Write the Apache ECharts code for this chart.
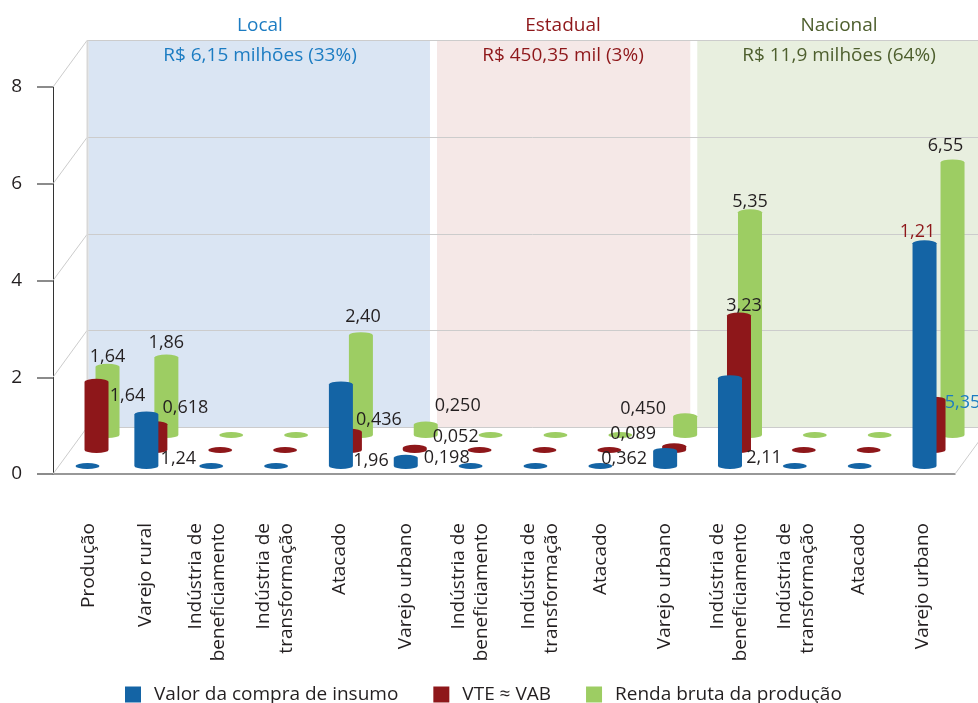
<!DOCTYPE html>
<html>
<head>
<meta charset="utf-8">
<style>html,body{margin:0;padding:0;background:#fff}#chart{width:978px;height:703px}</style>
<script src="https://cdn.jsdelivr.net/npm/echarts@6/dist/echarts.min.js"></script>
</head>
<body>
<div id="chart"></div>
<script>
// Value chain: 14 stages grouped into local, state and national markets
const categories = [
  'Produção', 'Varejo rural', 'Indústria de\nbeneficiamento', 'Indústria de\ntransformação', 'Atacado', 'Varejo urbano',
  'Indústria de\nbeneficiamento', 'Indústria de\ntransformação', 'Atacado', 'Varejo urbano',
  'Indústria de\nbeneficiamento', 'Indústria de\ntransformação', 'Atacado', 'Varejo urbano'
];
const insumo = [0, 1.24, 0, 0, 1.96, 0.198, 0, 0, 0, 0.362, 2.11, 0, 0, 5.35];
const vte    = [1.64, 0.618, 0, 0, 0.436, 0.052, 0, 0, 0, 0.089, 3.23, 0, 0, 1.21];
const renda  = [1.64, 1.86, 0, 0, 2.40, 0.25, 0, 0, 0, 0.45, 5.35, 0, 0, 6.55];
const seriesNames = ['Valor da compra de insumo', 'VTE ≈ VAB', 'Renda bruta da produção'];
const yTicks = [0, 2, 4, 6, 8];
const regionNames = ['Local', 'Estadual', 'Nacional'];
const regionTotals = ['R$ 6,15 milhões (33%)', 'R$ 450,35 mil (3%)', 'R$ 11,9 milhões (64%)'];

// Drawing settings
const FONT = '"Open Sans", "Noto Sans", sans-serif';
const TEXT = '#231f20';
const BLUE = '#1464a5', RED = '#8e171a', GREEN = '#9dcd63';
const LIGHT = '#cccccc';
const DEPTH_X = 34, DEPTH_Y = 46.5;
const RADIUS_X = 12, RADIUS_Y = 3;

// Each floor row sits at its own depth with its own sideways offset
const rows = {
  insumo: { lift: 8, side: -1, color: BLUE },
  vte: { lift: 24, side: 8, color: RED },
  renda: { lift: 39, side: 19, color: GREEN }
};
// Extra sideways shift of single columns
const columnShift = { 0: 6 };
const columnShiftByRow = { renda: { 13: 8 } };

// Value label placement relative to the top of its cylinder: [dx, dy, colour]
const labelPlacement = {
  insumo: { 1: [32, 44], 4: [30, 76], 5: [41, 0], 9: [-41, 8], 10: [34, 80], 13: [38, 160, '#1c7cc2'] },
  vte: { 0: [31, 14], 1: [30, -16], 4: [29, -12], 5: [41, -11], 9: [-41, -12], 10: [5, -10], 13: [-16, -168, RED] },
  renda: { 0: [0, -10], 1: [0, -15], 4: [2, -18], 5: [32, -19], 9: [-42, -7], 10: [0, -10], 13: [-7, -17] }
};

// Sideways shift of some stage names under the axis (positive moves right)
const stageNameShift = { 0: 3, 1: -4, 2: -7, 3: -3, 4: -3, 5: -2, 6: -2, 7: 4, 11: 2 };

const panels = [
  { from: 0, to: 5, inLeft: 35.5, inRight: -9.6, color: '#dae5f3' },
  { from: 6, to: 9, inLeft: -2.6, inRight: -7, color: '#f5e8e7' },
  { from: 10, to: 13, inLeft: 0, inRight: 23, color: '#e8efdf' }
];

const formatValue = v => v.toFixed(v < 1 ? 3 : 2).replace('.', ',');

// Rich text styles that pad a rotated stage name so it sits off its band centre
const stageRich = {};
Object.values(stageNameShift).forEach(d => {
  const pad = 2 * Math.abs(d);
  stageRich[`s${d < 0 ? 'm' : 'p'}${Math.abs(d)}`] = {
    align: 'right', fontFamily: FONT, fontSize: 19, color: TEXT, lineHeight: 23 + pad,
    padding: d < 0 ? [0, 0, pad, 0] : [pad, 0, 0, 0]
  };
});

function stageLabel(value, index) {
  const d = stageNameShift[index];
  if (!d) return value;
  const key = `s${d < 0 ? 'm' : 'p'}${Math.abs(d)}`;
  const lines = value.split('\n');
  if (d < 0) {
    return lines.map((t, k) => (k === lines.length - 1 ? `{${key}|${t}}` : `{plain|${t}}`)).join('\n');
  }
  return lines.map((t, k) => (k === 0 ? `{${key}|${t}}` : `{plain|${t}}`)).join('\n');
}

function columnX(api, row, i) {
  const cx = api.coord([i, 0])[0];
  const shift = (columnShift[i] || 0) + ((columnShiftByRow[row] || {})[i] || 0);
  return cx + rows[row].side + (cx - 500) * 0.0065 + shift;
}

function columnTop(api, row, i, v) {
  const y0 = api.coord([i, 0])[1];
  const base = y0 - rows[row].lift;
  return { base, top: base - (y0 - api.coord([i, v])[1]) };
}

function cylinderSeries(row, name, values) {
  return {
    type: 'custom',
    name,
    yAxisIndex: 1,
    silent: true,
    itemStyle: { color: rows[row].color },
    data: values.map((v, i) => [i, v]),
    encode: { x: 0, y: 1 },
    renderItem(params, api) {
      const i = api.value(0), v = api.value(1);
      const x = columnX(api, row, i);
      const { base, top } = columnTop(api, row, i, v);
      const l = x - RADIUS_X, r = x + RADIUS_X;
      const a = `A${RADIUS_X} ${RADIUS_Y} 0 0 1`;
      return {
        type: 'path',
        shape: {
          pathData: `M${l} ${top} ${a} ${r} ${top} L${r} ${base} ${a} ${l} ${base} Z`,
          x: l, y: top - RADIUS_Y, width: 2 * RADIUS_X, height: base - top + 2 * RADIUS_Y
        },
        style: { fill: rows[row].color }
      };
    }
  };
}

const labelItems = [];
[['insumo', insumo], ['vte', vte], ['renda', renda]].forEach(([row, values]) => {
  values.forEach((v, i) => { if (v > 0) labelItems.push([i, v, row]); });
});

const option = {
  animation: false,
  backgroundColor: '#fff',
  textStyle: { fontFamily: FONT },
  title: regionNames.flatMap((name, k) => {
    const colors = ['#1c7cc2', RED, '#4e5f2e'];
    const centers = [260, 563, 839];
    return [
      { text: name, left: centers[k], top: 16, padding: 0, textAlign: 'center',
        textStyle: { color: colors[k], fontFamily: FONT, fontSize: 19, fontWeight: 'normal' } },
      { text: regionTotals[k], left: centers[k], top: 46, padding: 0, textAlign: 'center',
        textStyle: { color: colors[k], fontFamily: FONT, fontSize: 19, fontWeight: 'normal' } }
    ];
  }),
  legend: {
    data: seriesNames,
    left: 125, top: 685,
    itemWidth: 16, itemHeight: 16, itemGap: 35, icon: 'rect',
    textStyle: { color: TEXT, fontFamily: FONT, fontSize: 19, padding: [0, 0, 0, 8] },
    padding: 0, selectedMode: false
  },
  grid: { left: 53, right: 23, top: 87, bottom: 229, containLabel: false },
  xAxis: {
    type: 'category',
    data: categories,
    axisLine: { lineStyle: { color: '#777', width: 1.5 } },
    axisTick: { length: 15, lineStyle: { color: '#555', width: 1 } },
    axisLabel: {
      interval: 0, rotate: 90, margin: 49, color: TEXT, fontFamily: FONT, fontSize: 19, lineHeight: 23, align: 'right',
      formatter: stageLabel,
      rich: Object.assign({ plain: { align: 'right', fontFamily: FONT, fontSize: 19, color: TEXT, lineHeight: 23 } }, stageRich)
    }
  },
  yAxis: [
    {
      type: 'value', min: 0, max: 8, interval: 2,
      splitLine: { show: false },
      axisLine: { show: true, lineStyle: { color: '#333', width: 1 } },
      axisTick: { show: true, length: 16, lineStyle: { color: '#666', width: 1.5 } },
      axisLabel: { margin: 31, color: TEXT, fontFamily: FONT, fontSize: 19 }
    },
    // Scale of the cylinders, which stand inside the depth of the box
    { type: 'value', min: 0, max: 9.3, show: false }
  ],
  series: [
    {
      // Coloured back wall panels
      type: 'custom', silent: true, z: 0,
      data: panels.map((p, k) => [p.from, p.to, k]),
      renderItem(params, api) {
        const p = panels[api.value(2)];
        const band = api.size([1, 0])[0];
        const x0 = api.coord([p.from, 0])[0] - band / 2 + p.inLeft;
        const x1 = api.coord([p.to, 0])[0] + band / 2 + p.inRight;
        const top = Math.floor(api.coord([0, 8])[1] - DEPTH_Y);
        const bottom = Math.floor(api.coord([0, 0])[1] - DEPTH_Y) + 1;
        return { type: 'rect', shape: { x: x0, y: top, width: x1 - x0, height: bottom - top }, style: { fill: p.color } };
      }
    },
    {
      // Grid lines on the back wall with their diagonals on the side wall
      type: 'custom', silent: true, z: 1,
      data: yTicks.map(v => [0, v]),
      renderItem(params, api) {
        const v = api.value(1);
        const [x, y] = api.coord([0, v]);
        const left = x - api.size([1, 0])[0] / 2;
        const yBack = Math.floor(y - DEPTH_Y) + 0.5;
        const stroke = { stroke: LIGHT, lineWidth: 1 };
        return {
          type: 'group',
          children: [
            { type: 'line', shape: { x1: left, y1: y, x2: left + DEPTH_X, y2: yBack }, style: stroke },
            { type: 'line', shape: { x1: left + DEPTH_X, y1: yBack, x2: 978, y2: yBack }, style: stroke }
          ]
        };
      }
    },
    {
      // Rear edge of the side wall and right edge of the floor
      type: 'custom', silent: true, z: 1,
      data: [[0, 0]],
      renderItem(params, api) {
        const band = api.size([1, 0])[0];
        const [x, y0] = api.coord([0, 0]);
        const y8 = api.coord([0, 8])[1];
        const left = x - band / 2;
        const right = api.coord([13, 0])[0] + band / 2;
        return {
          type: 'group',
          children: [
            { type: 'line', shape: { x1: left + DEPTH_X + 0.5, y1: y8 - DEPTH_Y, x2: left + DEPTH_X + 0.5, y2: y0 - DEPTH_Y }, style: { stroke: '#d8d8d8', lineWidth: 2 } },
            { type: 'line', shape: { x1: right, y1: y0, x2: right + DEPTH_X, y2: y0 - DEPTH_Y }, style: { stroke: LIGHT, lineWidth: 1 } }
          ]
        };
      }
    },
    // Back row first so nearer cylinders cover it
    Object.assign(cylinderSeries('renda', seriesNames[2], renda), { z: 2 }),
    Object.assign(cylinderSeries('vte', seriesNames[1], vte), { z: 3 }),
    Object.assign(cylinderSeries('insumo', seriesNames[0], insumo), { z: 4 }),
    {
      // Value labels
      type: 'custom', silent: true, z: 5, yAxisIndex: 1,
      data: labelItems.map(d => [d[0], d[1]]),
      renderItem(params, api) {
        const [i, v, row] = labelItems[params.dataIndex];
        const place = labelPlacement[row][i];
        const x = columnX(api, row, i) + place[0];
        const y = columnTop(api, row, i, v).top + place[1];
        return {
          type: 'text',
          style: {
            text: formatValue(v), x, y, align: 'center', verticalAlign: 'middle',
            font: `18px ${FONT}`, fill: place[2] || TEXT
          }
        };
      }
    }
  ]
};

echarts.init(document.getElementById('chart'), null, { renderer: 'canvas' }).setOption(option);
</script>
</body>
</html>
